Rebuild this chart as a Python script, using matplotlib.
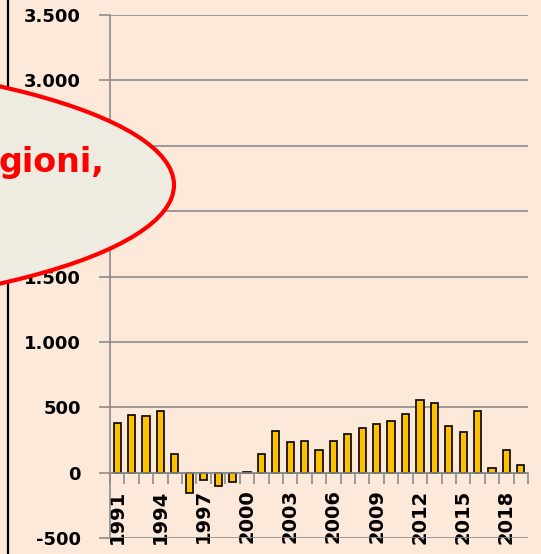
import matplotlib.pyplot as plt
from matplotlib.patches import Ellipse
from matplotlib.lines import Line2D
import numpy as np

# saldo annuale
years = list(range(1991, 2020))
values = [380, 443, 430, 474, 145, -155, -59, -99, -74, 5,
          145, 316, 237, 239, 176, 239, 293, 342, 372, 392,
          451, 558, 533, 354, 311, 472, 36, 176, 56]
yticks = [-500, 0, 500, 1000, 1500, 2000, 2500, 3000, 3500]
ylabels = ["-500", "0", "500", "1.000", "1.500", "2.000", "2.500", "3.000", "3.500"]
callout_text = "gioni,"

bg = "#FDE9D9"
grey = "#8C8C8C"

W, H = 541, 554
fig = plt.figure(figsize=(W / 100, H / 100), dpi=100, facecolor=bg)
ax = fig.add_axes([110 / W, 1 - 538 / H, (528 - 110) / W, (538 - 15) / H])
ax.set_facecolor(bg)

# spine position first (it resets the ticks)
for s in ["top", "right"]:
    ax.spines[s].set_visible(False)
ax.spines["bottom"].set_position(("data", 0))
ax.spines["bottom"].set_color(grey)
ax.spines["bottom"].set_linewidth(1.2)
ax.spines["bottom"].set_zorder(4)
ax.spines["left"].set_color(grey)
ax.spines["left"].set_linewidth(1.2)

x = np.arange(len(years))
ax.bar(x, values, width=0.5, color="#FFC000", edgecolor="black", linewidth=1.2, zorder=3)

ax.set_xlim(-0.5, len(years) - 0.5)
ax.set_ylim(-500, 3500)
ax.set_yticks(yticks)
ax.set_yticklabels(ylabels, fontsize=13, fontweight="bold")
ax.tick_params(axis="y", length=8, width=1.2, color=grey, pad=13)
ax.yaxis.grid(True, color=grey, linewidth=1.2, zorder=0)

# tick marks between categories, labels every 3 years
ax.set_xticks(np.arange(-0.5, len(years), 1))
ax.set_xticklabels([])
ax.tick_params(axis="x", which="major", length=8, width=1.2, color=grey, direction="out")
lab_pos = x[::3]
ax.set_xticks(lab_pos, minor=True)
ax.set_xticklabels([str(years[i]) for i in lab_pos], minor=True,
                   rotation=90, fontsize=14, fontweight="bold", va="top")
ax.tick_params(axis="x", which="minor", length=0, pad=12)

# black line on the left border
fig.add_artist(Line2D([7.5 / W, 7.5 / W], [0, 1], color="black", linewidth=1.6,
                      transform=fig.transFigure))

# callout ellipse, mostly off the left edge
ell = Ellipse((-326 / W, 1 - 185 / H), 1000 / W, 260 / H, transform=fig.transFigure,
              facecolor="#EEECE1", edgecolor="#FF0000", linewidth=3, zorder=10)
fig.add_artist(ell)
fig.text(104 / W, 1 - 172 / H, callout_text, color="#FF0000", fontsize=24,
         fontweight="bold", ha="right", va="baseline", zorder=11)

fig.savefig("out.png", dpi=100, facecolor=bg)
